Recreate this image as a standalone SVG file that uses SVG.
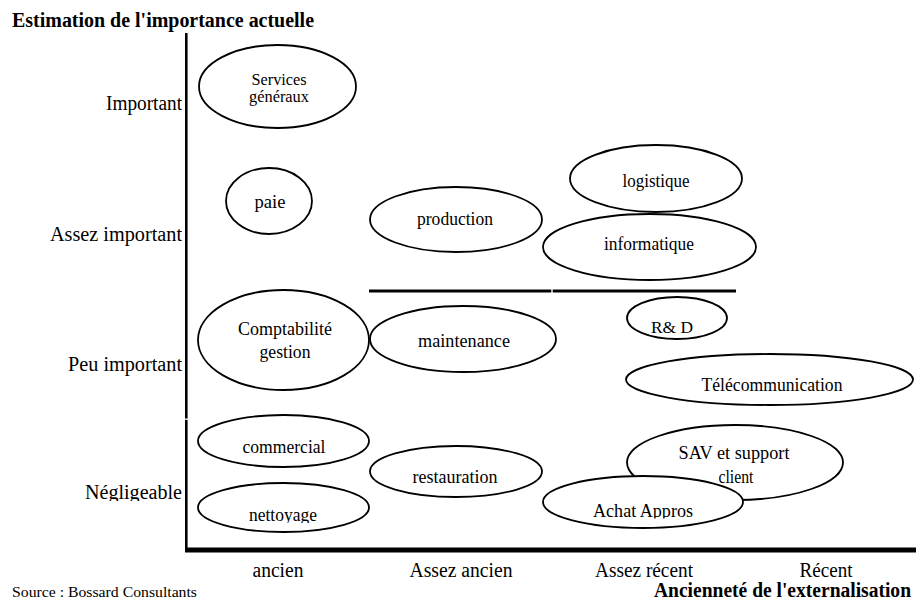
<svg xmlns="http://www.w3.org/2000/svg" width="916" height="604" viewBox="0 0 916 604" font-family="'Liberation Serif', 'Times New Roman', Times, serif">
  <style>
    text { fill: #000; }
    .lbl { font-size: 18px; text-anchor: middle; }
    .ax { font-size: 20px; }
    .yl { text-anchor: end; }
    .xl { text-anchor: middle; }
    .title { font-size: 20px; font-weight: bold; }
    .src { font-size: 15px; }
    ellipse { fill: #fff; stroke: #000; stroke-width: 1.8; }
    .axis { stroke: #000; fill: none; }
  </style>
  <defs>
    <clipPath id="clipNeg"><rect x="0" y="470" width="186" height="31"/></clipPath>
    <clipPath id="clipNet"><rect x="200" y="495" width="168" height="28"/></clipPath>
    <clipPath id="clipAch"><rect x="545" y="490" width="196" height="28.5"/></clipPath>
  </defs>
  <rect width="916" height="604" fill="#fff"/>

  <g id="titles">
    <text class="title" x="12" y="27" textLength="302" lengthAdjust="spacingAndGlyphs">Estimation de l'importance actuelle</text>
    <text class="title" x="654" y="597" textLength="257" lengthAdjust="spacingAndGlyphs">Ancienneté de l'externalisation</text>
    <text class="src" x="12" y="597" textLength="185" lengthAdjust="spacingAndGlyphs">Source : Bossard Consultants</text>
  </g>

  <g id="y-labels">
    <text class="ax yl" x="182" y="110" textLength="76" lengthAdjust="spacingAndGlyphs">Important</text>
    <text class="ax yl" x="182" y="241" textLength="132" lengthAdjust="spacingAndGlyphs">Assez important</text>
    <text class="ax yl" x="182" y="371" textLength="114" lengthAdjust="spacingAndGlyphs">Peu important</text>
    <text class="ax yl" x="182" y="499" textLength="97" lengthAdjust="spacingAndGlyphs" clip-path="url(#clipNeg)">Négligeable</text>
  </g>

  <g id="x-labels">
    <text class="ax xl" x="278" y="577" textLength="51" lengthAdjust="spacingAndGlyphs">ancien</text>
    <text class="ax xl" x="461" y="577" textLength="103" lengthAdjust="spacingAndGlyphs">Assez ancien</text>
    <text class="ax xl" x="644" y="577" textLength="98" lengthAdjust="spacingAndGlyphs">Assez récent</text>
    <text class="ax xl" x="826" y="577" textLength="53" lengthAdjust="spacingAndGlyphs">Récent</text>
  </g>

  <g id="connectors">
    <line class="axis" x1="186.3" y1="33" x2="186.3" y2="418.5" stroke-width="2.6"/>
    <line class="axis" x1="186.3" y1="419.8" x2="186.3" y2="552" stroke-width="2.6"/>
    <line class="axis" x1="185" y1="550" x2="916" y2="550" stroke-width="5"/>
    <line class="axis" x1="369" y1="291" x2="551.3" y2="291" stroke-width="3.2"/>
    <line class="axis" x1="552.7" y1="291" x2="736" y2="291" stroke-width="3.2"/>
  </g>

  <g id="services-generaux">
    <ellipse cx="277.5" cy="86.5" rx="78.5" ry="41.5"/>
    <text class="lbl" x="279" y="85" style="font-size:16px" textLength="55" lengthAdjust="spacingAndGlyphs">Services</text>
    <text class="lbl" x="279" y="102" style="font-size:16px" textLength="60" lengthAdjust="spacingAndGlyphs">généraux</text>
  </g>

  <g id="paie">
    <ellipse cx="269" cy="201" rx="43" ry="33"/>
    <text class="lbl" x="270" y="208" textLength="31" lengthAdjust="spacingAndGlyphs">paie</text>
  </g>

  <g id="production">
    <ellipse cx="456" cy="219.5" rx="86" ry="32.5"/>
    <text class="lbl" x="455" y="225" textLength="76" lengthAdjust="spacingAndGlyphs">production</text>
  </g>

  <g id="logistique">
    <ellipse cx="656" cy="178.5" rx="86" ry="33.5"/>
    <text class="lbl" x="656" y="187" textLength="67" lengthAdjust="spacingAndGlyphs">logistique</text>
  </g>

  <g id="informatique">
    <ellipse cx="649.5" cy="247" rx="106.5" ry="33"/>
    <text class="lbl" x="649" y="250" textLength="90" lengthAdjust="spacingAndGlyphs">informatique</text>
  </g>

  <g id="comptabilite-gestion">
    <ellipse cx="283.5" cy="340" rx="85.5" ry="50"/>
    <text class="lbl" x="285" y="335" textLength="94" lengthAdjust="spacingAndGlyphs">Comptabilité</text>
    <text class="lbl" x="285" y="358" textLength="51" lengthAdjust="spacingAndGlyphs">gestion</text>
  </g>

  <g id="maintenance">
    <ellipse cx="463" cy="339" rx="93" ry="33"/>
    <text class="lbl" x="464" y="347" textLength="92" lengthAdjust="spacingAndGlyphs">maintenance</text>
  </g>

  <g id="r-et-d">
    <ellipse cx="677" cy="318" rx="50" ry="21"/>
    <text class="lbl" x="672" y="333" style="font-size:17px" textLength="42" lengthAdjust="spacingAndGlyphs">R&amp; D</text>
  </g>

  <g id="telecommunication">
    <ellipse cx="769.5" cy="379.5" rx="143.5" ry="25.5"/>
    <text class="lbl" x="772" y="391" textLength="141" lengthAdjust="spacingAndGlyphs">Télécommunication</text>
  </g>

  <g id="commercial">
    <ellipse cx="283.5" cy="441" rx="85.5" ry="26"/>
    <text class="lbl" x="284" y="453" textLength="83" lengthAdjust="spacingAndGlyphs">commercial</text>
  </g>

  <g id="nettoyage">
    <ellipse cx="283.5" cy="507.5" rx="85.5" ry="24.5"/>
    <text class="lbl" x="283" y="521" textLength="68" lengthAdjust="spacingAndGlyphs" clip-path="url(#clipNet)">nettoyage</text>
  </g>

  <g id="restauration">
    <ellipse cx="456" cy="471.5" rx="86" ry="25.5"/>
    <text class="lbl" x="455" y="483" textLength="85" lengthAdjust="spacingAndGlyphs">restauration</text>
  </g>

  <g id="sav-support-client">
    <ellipse cx="735" cy="462.5" rx="108" ry="37.5"/>
    <text class="lbl" x="734" y="459" textLength="111" lengthAdjust="spacingAndGlyphs">SAV et support</text>
    <text class="lbl" x="736" y="483" textLength="35" lengthAdjust="spacingAndGlyphs">client</text>
  </g>

  <g id="achat-appros">
    <ellipse cx="643" cy="502" rx="100" ry="26"/>
    <text class="lbl" x="643" y="517" textLength="100" lengthAdjust="spacingAndGlyphs" clip-path="url(#clipAch)">Achat Appros</text>
  </g>
</svg>
